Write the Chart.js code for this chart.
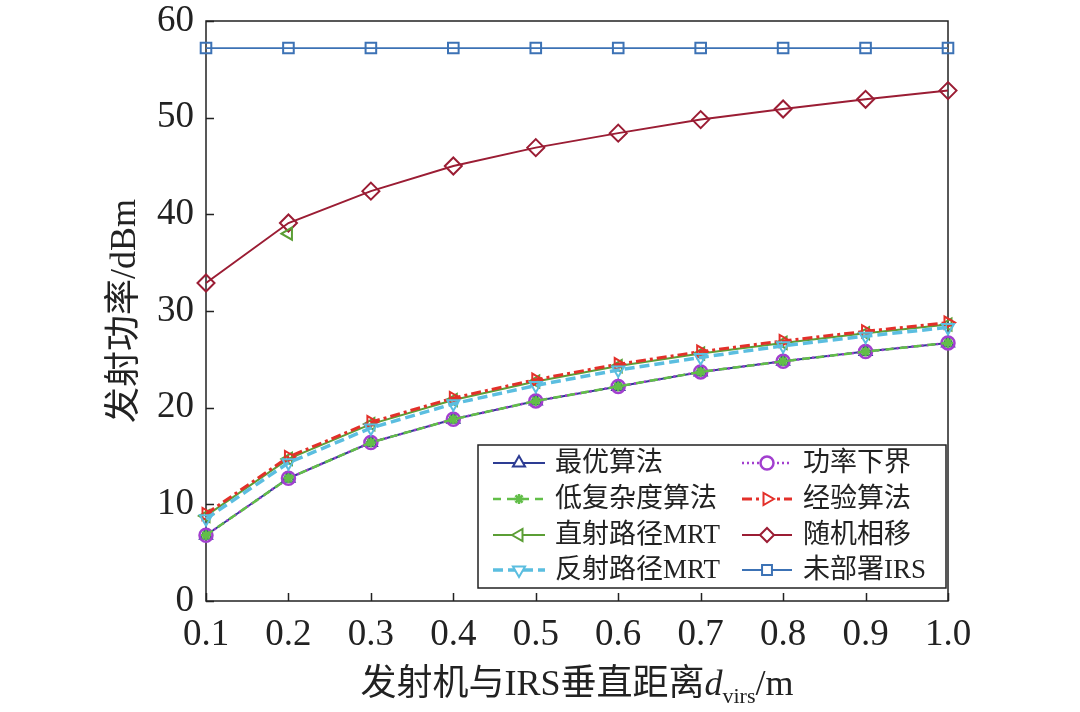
<!DOCTYPE html>
<html>
<head>
<meta charset="utf-8">
<script src="https://cdn.jsdelivr.net/npm/chart.js@4/dist/chart.umd.min.js"></script>
<style>
  html, body { margin: 0; padding: 0; background: #fff; }
  #wrap { width: 1080px; height: 712px; }
</style>
</head>
<body>
<div id="wrap"><canvas id="chart" width="1080" height="712"></canvas></div>
<script>
// 数据
const xLabels = ['0.1', '0.2', '0.3', '0.4', '0.5', '0.6', '0.7', '0.8', '0.9', '1.0'];
const yTicks = [0, 10, 20, 30, 40, 50, 60];

const optimal       = [6.8, 12.7, 16.4, 18.8, 20.7, 22.2, 23.7, 24.8, 25.8, 26.7];
const lowComplexity = [6.8, 12.7, 16.4, 18.8, 20.7, 22.2, 23.7, 24.8, 25.8, 26.7];
const powerBound    = [6.8, 12.7, 16.4, 18.8, 20.7, 22.2, 23.7, 24.8, 25.8, 26.7];
const empirical     = [9.0, 14.9, 18.5, 21.0, 22.9, 24.5, 25.8, 26.9, 27.9, 28.8];
const directMRT     = [8.8, 14.7, 18.3, 20.8, 22.7, 24.3, 25.6, 26.7, 27.7, 28.6];
const reflectMRT    = [8.5, 14.3, 17.9, 20.4, 22.3, 23.9, 25.2, 26.4, 27.4, 28.3];
const randomPhase   = [32.9, 39.1, 42.4, 45.0, 46.9, 48.4, 49.8, 50.9, 51.9, 52.8];
const noIRS         = [57.2, 57.2, 57.2, 57.2, 57.2, 57.2, 57.2, 57.2, 57.2, 57.2];
// 0.2 处多出的一个直射路径MRT标记
const directMRTStray = [null, 38.0, null, null, null, null, null, null, null, null];

const latin = '"Liberation Serif", "DejaVu Serif", serif';
const mixed = '"Liberation Serif", "Noto Sans CJK SC", serif';

function series(label, data, color, style, extra) {
    return Object.assign({
        label: label,
        data: data,
        borderColor: color,
        pointBorderColor: color,
        pointBackgroundColor: 'rgba(0,0,0,0)',
        pointStyle: style,
        pointRadius: 7,
        pointBorderWidth: 2,
        borderWidth: 2,
        tension: 0,
        fill: false
    }, extra || {});
}

const datasets = [
    series('最优算法', optimal, '#2d3c93', 'triangle', { order: 8 }),
    series('功率下界', powerBound, '#a23fcf', 'circle', { order: 7, borderDash: [2, 3], borderWidth: 2.5, pointRadius: 6.5, pointBorderWidth: 2.5 }),
    series('低复杂度算法', lowComplexity, '#62be48', 'star', { order: 6, borderDash: [8, 6], borderWidth: 2.5, pointRadius: 5, pointBorderWidth: 2.5 }),
    series('直射路径MRT', directMRT, '#5b9e35', 'triangle', { order: 5, pointRotation: -90 }),
    series('经验算法', empirical, '#e3302a', 'triangle', { order: 4, pointRotation: 90, borderDash: [10, 4, 3, 4], borderWidth: 3 }),
    series('反射路径MRT', reflectMRT, '#5bbee0', 'triangle', { order: 3, pointRotation: 180, borderDash: [10, 5], borderWidth: 3.5 }),
    series('随机相移', randomPhase, '#9b1d34', 'rectRot', { order: 2, pointRadius: 8.5 }),
    series('未部署IRS', noIRS, '#3c72b5', 'rect', { order: 1, pointRadius: 7.5, borderWidth: 1.8 }),
    series('', directMRTStray, '#5b9e35', 'triangle', { order: 0, pointRotation: -90, showLine: false })
];

// 图例排列：左列四项，右列四项
const legendCols = [
    ['最优算法', '低复杂度算法', '直射路径MRT', '反射路径MRT'],
    ['功率下界', '经验算法', '随机相移', '未部署IRS']
];

// 边框、向内刻度、坐标轴标题
const framePlugin = {
    id: 'frame',
    beforeDatasetsDraw(chart) {
        const { ctx, chartArea: a, scales } = chart;
        ctx.save();
        ctx.strokeStyle = '#222';
        ctx.lineWidth = 1.5;
        ctx.strokeRect(a.left, a.top, a.right - a.left, a.bottom - a.top);
        ctx.beginPath();
        yTicks.forEach(v => {
            const y = Math.round(scales.y.getPixelForValue(v)) + 0.5;
            ctx.moveTo(a.left, y);
            ctx.lineTo(a.left + 8, y);
        });
        xLabels.forEach((l, i) => {
            const x = Math.round(scales.x.getPixelForValue(i)) + 0.5;
            ctx.moveTo(x, a.bottom);
            ctx.lineTo(x, a.bottom - 8);
        });
        ctx.stroke();
        ctx.restore();
    },
    afterDraw(chart) {
        const { ctx, chartArea: a } = chart;
        ctx.save();
        ctx.fillStyle = '#222';
        ctx.textBaseline = 'alphabetic';

        // y 轴标题
        ctx.save();
        ctx.translate(135, (a.top + a.bottom) / 2);
        ctx.rotate(-Math.PI / 2);
        ctx.font = '36px ' + mixed;
        ctx.textAlign = 'center';
        ctx.fillText('发射功率/dBm', 0, 0);
        ctx.restore();

        // x 轴标题（含下标）
        const parts = [
            { t: '发射机与IRS垂直距离', f: '36px ' + mixed, dy: 0 },
            { t: 'd', f: 'italic 36px ' + latin, dy: 0 },
            { t: 'virs', f: '22px ' + latin, dy: 8 },
            { t: '/m', f: '36px ' + latin, dy: 0 }
        ];
        let total = 0;
        parts.forEach(p => { ctx.font = p.f; p.w = ctx.measureText(p.t).width; total += p.w; });
        let x = (a.left + a.right) / 2 - total / 2;
        const base = 695;
        ctx.textAlign = 'left';
        parts.forEach(p => {
            ctx.font = p.f;
            ctx.fillText(p.t, x, base + p.dy);
            x += p.w;
        });

        // 图例
        const box = { l: 478, t: 445, r: 946, b: 588 };
        ctx.fillStyle = '#fff';
        ctx.fillRect(box.l, box.t, box.r - box.l, box.b - box.t);
        ctx.strokeStyle = '#222';
        ctx.lineWidth = 1.5;
        ctx.strokeRect(box.l, box.t, box.r - box.l, box.b - box.t);

        const rowY = [463, 499, 535, 570];
        const colX = [{ s: 493, e: 545, tx: 555 }, { s: 742, e: 792, tx: 803 }];
        legendCols.forEach((col, ci) => {
            col.forEach((label, ri) => {
                const ds = datasets.find(d => d.label === label);
                const c = colX[ci];
                const y = rowY[ri];
                ctx.save();
                ctx.strokeStyle = ds.borderColor;
                ctx.lineWidth = ds.borderWidth;
                ctx.setLineDash(ds.borderDash || []);
                ctx.beginPath();
                ctx.moveTo(c.s, y);
                ctx.lineTo(c.e, y);
                ctx.stroke();
                ctx.setLineDash([]);
                ctx.fillStyle = '#fff';
                ctx.strokeStyle = ds.pointBorderColor;
                ctx.lineWidth = ds.pointBorderWidth;
                Chart.helpers.drawPoint(ctx, {
                    pointStyle: ds.pointStyle,
                    rotation: ds.pointRotation || 0,
                    radius: Math.min(ds.pointRadius, 7),
                    borderWidth: ds.pointBorderWidth
                }, (c.s + c.e) / 2, y);
                ctx.restore();
                ctx.fillStyle = '#222';
                ctx.font = '27px ' + mixed;
                ctx.textBaseline = 'middle';
                ctx.fillText(label, c.tx, y + 1);
            });
        });
        ctx.restore();
    }
};

const ctx = document.getElementById('chart').getContext('2d');
const chart = new Chart(ctx, {
    type: 'line',
    data: { labels: xLabels, datasets: datasets },
    options: {
        responsive: false,
        animation: false,
        devicePixelRatio: 1,
        layout: { padding: { left: 0, top: 21, right: 132, bottom: 0 } },
        plugins: { legend: { display: false }, tooltip: { enabled: false } },
        scales: {
            x: {
                type: 'category',
                offset: false,
                grid: { display: false, drawTicks: false },
                border: { display: false },
                ticks: { color: '#222', font: { family: latin, size: 37 }, padding: 12, maxRotation: 0, autoSkip: false },
                afterFit(s) { s.height = 111; s.paddingLeft = 0; s.paddingRight = 0; }
            },
            y: {
                type: 'linear',
                min: 0,
                max: 60,
                grid: { display: false, drawTicks: false },
                border: { display: false },
                ticks: { color: '#222', stepSize: 10, font: { family: latin, size: 37 }, padding: 12 },
                afterFit(s) { s.width = 206; s.paddingTop = 0; s.paddingBottom = 0; }
            }
        }
    },
    plugins: [framePlugin]
});
</script>
</body>
</html>
